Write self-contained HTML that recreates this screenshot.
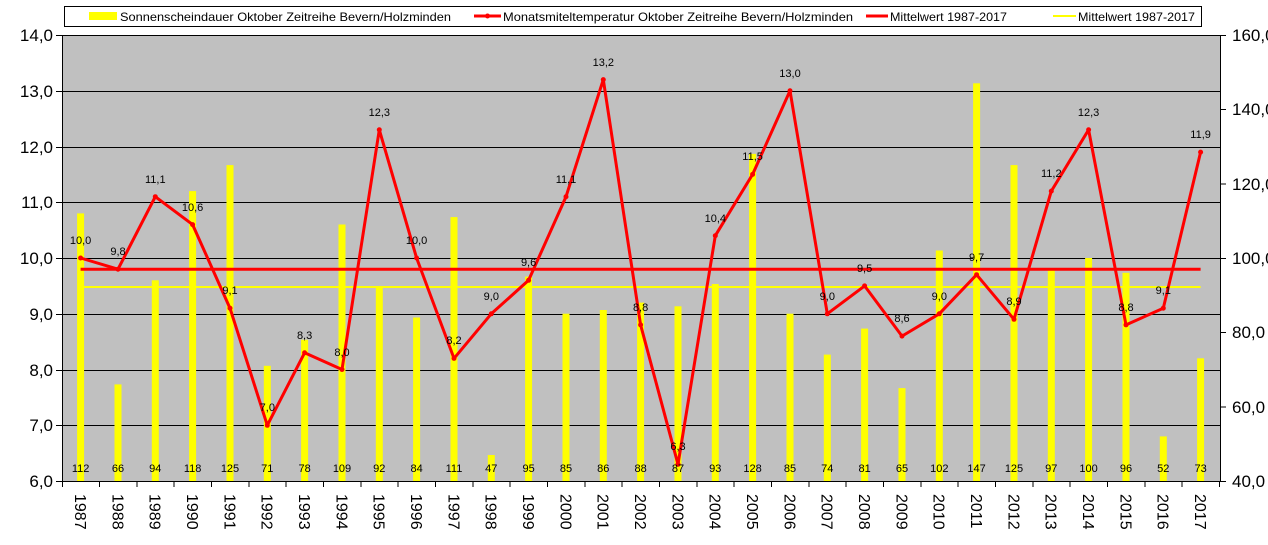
<!DOCTYPE html>
<html><head><meta charset="utf-8"><style>
html,body{margin:0;padding:0;background:#fff;}
svg{display:block;font-family:"Liberation Sans",Arial,sans-serif;}
</style></head><body>
<svg width="1268" height="545" viewBox="0 0 1268 545" xmlns="http://www.w3.org/2000/svg">
<rect x="62" y="35" width="1158" height="446" fill="#c0c0c0"/>
<g stroke="#000" stroke-width="1">
<line x1="62" y1="35.5" x2="1220" y2="35.5"/>
<line x1="62" y1="91.5" x2="1220" y2="91.5"/>
<line x1="62" y1="147.5" x2="1220" y2="147.5"/>
<line x1="62" y1="202.5" x2="1220" y2="202.5"/>
<line x1="62" y1="258.5" x2="1220" y2="258.5"/>
<line x1="62" y1="314.5" x2="1220" y2="314.5"/>
<line x1="62" y1="370.5" x2="1220" y2="370.5"/>
<line x1="62" y1="425.5" x2="1220" y2="425.5"/>
<line x1="62" y1="481.5" x2="1220" y2="481.5"/>
<line x1="62.5" y1="35" x2="62.5" y2="481"/>
<line x1="1220.5" y1="35" x2="1220.5" y2="481"/>
</g>
<g stroke="#000">
<line x1="1220" y1="35.5" x2="1226" y2="35.5"/><line x1="1220" y1="109.5" x2="1226" y2="109.5"/><line x1="1220" y1="184" x2="1226" y2="184"/><line x1="1220" y1="258.5" x2="1226" y2="258.5"/><line x1="1220" y1="332.5" x2="1226" y2="332.5"/><line x1="1220" y1="407" x2="1226" y2="407"/><line x1="1220" y1="481.5" x2="1226" y2="481.5"/>
<line x1="56" y1="35.5" x2="62" y2="35.5"/><line x1="56" y1="91.5" x2="62" y2="91.5"/><line x1="56" y1="147.5" x2="62" y2="147.5"/><line x1="56" y1="202.5" x2="62" y2="202.5"/><line x1="56" y1="258.5" x2="62" y2="258.5"/><line x1="56" y1="314.5" x2="62" y2="314.5"/><line x1="56" y1="370.5" x2="62" y2="370.5"/><line x1="56" y1="425.5" x2="62" y2="425.5"/><line x1="56" y1="481.5" x2="62" y2="481.5"/>
</g>
<g stroke="#000">
<line x1="62.5" y1="481" x2="62.5" y2="487"/><line x1="99.5" y1="481" x2="99.5" y2="487"/><line x1="137" y1="481" x2="137" y2="487"/><line x1="174" y1="481" x2="174" y2="487"/><line x1="211.5" y1="481" x2="211.5" y2="487"/><line x1="249" y1="481" x2="249" y2="487"/><line x1="286" y1="481" x2="286" y2="487"/><line x1="323.5" y1="481" x2="323.5" y2="487"/><line x1="361" y1="481" x2="361" y2="487"/><line x1="398" y1="481" x2="398" y2="487"/><line x1="435.5" y1="481" x2="435.5" y2="487"/><line x1="473" y1="481" x2="473" y2="487"/><line x1="510" y1="481" x2="510" y2="487"/><line x1="547.5" y1="481" x2="547.5" y2="487"/><line x1="585" y1="481" x2="585" y2="487"/><line x1="622" y1="481" x2="622" y2="487"/><line x1="659.5" y1="481" x2="659.5" y2="487"/><line x1="697" y1="481" x2="697" y2="487"/><line x1="734" y1="481" x2="734" y2="487"/><line x1="771.5" y1="481" x2="771.5" y2="487"/><line x1="809" y1="481" x2="809" y2="487"/><line x1="846" y1="481" x2="846" y2="487"/><line x1="883.5" y1="481" x2="883.5" y2="487"/><line x1="921" y1="481" x2="921" y2="487"/><line x1="958" y1="481" x2="958" y2="487"/><line x1="995.5" y1="481" x2="995.5" y2="487"/><line x1="1033" y1="481" x2="1033" y2="487"/><line x1="1070" y1="481" x2="1070" y2="487"/><line x1="1107.5" y1="481" x2="1107.5" y2="487"/><line x1="1145" y1="481" x2="1145" y2="487"/><line x1="1182" y1="481" x2="1182" y2="487"/><line x1="1219.5" y1="481" x2="1219.5" y2="487"/>
</g>
<g fill="#ffff00">
<rect x="77.1" y="213.4" width="7" height="267.6"/>
<rect x="114.5" y="384.4" width="7" height="96.6"/>
<rect x="151.8" y="280.3" width="7" height="200.7"/>
<rect x="189.1" y="191.1" width="7" height="289.9"/>
<rect x="226.5" y="165.1" width="7" height="315.9"/>
<rect x="263.8" y="365.8" width="7" height="115.2"/>
<rect x="301.1" y="339.8" width="7" height="141.2"/>
<rect x="338.5" y="224.5" width="7" height="256.5"/>
<rect x="375.8" y="287.7" width="7" height="193.3"/>
<rect x="413.1" y="317.5" width="7" height="163.5"/>
<rect x="450.5" y="217.1" width="7" height="263.9"/>
<rect x="487.8" y="455" width="7" height="26"/>
<rect x="525.1" y="276.6" width="7" height="204.4"/>
<rect x="562.5" y="313.7" width="7" height="167.3"/>
<rect x="599.8" y="310" width="7" height="171"/>
<rect x="637.1" y="302.6" width="7" height="178.4"/>
<rect x="674.5" y="306.3" width="7" height="174.7"/>
<rect x="711.8" y="284" width="7" height="197"/>
<rect x="749.1" y="153.9" width="7" height="327.1"/>
<rect x="786.5" y="313.7" width="7" height="167.3"/>
<rect x="823.8" y="354.6" width="7" height="126.4"/>
<rect x="861.1" y="328.6" width="7" height="152.4"/>
<rect x="898.5" y="388.1" width="7" height="92.9"/>
<rect x="935.8" y="250.5" width="7" height="230.5"/>
<rect x="973.1" y="83.3" width="7" height="397.7"/>
<rect x="1010.5" y="165.1" width="7" height="315.9"/>
<rect x="1047.8" y="269.1" width="7" height="211.9"/>
<rect x="1085.1" y="258" width="7" height="223"/>
<rect x="1122.5" y="272.8" width="7" height="208.2"/>
<rect x="1159.8" y="436.4" width="7" height="44.6"/>
<rect x="1197.1" y="358.3" width="7" height="122.7"/>
</g>
<line x1="80.6" y1="287" x2="1200.6" y2="287" stroke="#ffff00" stroke-width="2"/>
<line x1="80.6" y1="269.2" x2="1200.6" y2="269.2" stroke="#ff0000" stroke-width="3"/>
<polyline fill="none" stroke="#ff0000" stroke-width="3" stroke-linejoin="round" points="80.6,258 118,269.2 155.3,196.7 192.6,224.6 230,308.2 267.3,425.3 304.6,352.8 342,369.5 379.3,129.8 416.6,258 454,358.4 491.3,313.8 528.6,280.3 566,196.7 603.3,79.6 640.6,324.9 678,464.3 715.3,235.7 752.6,174.4 790,90.8 827.3,313.8 864.6,285.9 902,336.1 939.3,313.8 976.6,274.7 1014,319.3 1051.3,191.1 1088.6,129.8 1126,324.9 1163.3,308.2 1200.6,152.1"/>
<g fill="#ff0000">
<circle cx="80.6" cy="258" r="2.5"/><circle cx="118" cy="269.2" r="2.5"/><circle cx="155.3" cy="196.7" r="2.5"/><circle cx="192.6" cy="224.6" r="2.5"/><circle cx="230" cy="308.2" r="2.5"/><circle cx="267.3" cy="425.3" r="2.5"/><circle cx="304.6" cy="352.8" r="2.5"/><circle cx="342" cy="369.5" r="2.5"/><circle cx="379.3" cy="129.8" r="2.5"/><circle cx="416.6" cy="258" r="2.5"/><circle cx="454" cy="358.4" r="2.5"/><circle cx="491.3" cy="313.8" r="2.5"/><circle cx="528.6" cy="280.3" r="2.5"/><circle cx="566" cy="196.7" r="2.5"/><circle cx="603.3" cy="79.6" r="2.5"/><circle cx="640.6" cy="324.9" r="2.5"/><circle cx="678" cy="464.3" r="2.5"/><circle cx="715.3" cy="235.7" r="2.5"/><circle cx="752.6" cy="174.4" r="2.5"/><circle cx="790" cy="90.8" r="2.5"/><circle cx="827.3" cy="313.8" r="2.5"/><circle cx="864.6" cy="285.9" r="2.5"/><circle cx="902" cy="336.1" r="2.5"/><circle cx="939.3" cy="313.8" r="2.5"/><circle cx="976.6" cy="274.7" r="2.5"/><circle cx="1014" cy="319.3" r="2.5"/><circle cx="1051.3" cy="191.1" r="2.5"/><circle cx="1088.6" cy="129.8" r="2.5"/><circle cx="1126" cy="324.9" r="2.5"/><circle cx="1163.3" cy="308.2" r="2.5"/><circle cx="1200.6" cy="152.1" r="2.5"/>
</g>
<g font-size="11" fill="#000" text-anchor="middle">
<text x="80.6" y="244">10,0</text><text x="118" y="255">9,8</text><text x="155.3" y="183">11,1</text><text x="192.6" y="211">10,6</text><text x="230" y="294">9,1</text><text x="267.3" y="411">7,0</text><text x="304.6" y="339">8,3</text><text x="342" y="356">8,0</text><text x="379.3" y="116">12,3</text><text x="416.6" y="244">10,0</text><text x="454" y="344">8,2</text><text x="491.3" y="300">9,0</text><text x="528.6" y="266">9,6</text><text x="566" y="183">11,1</text><text x="603.3" y="66">13,2</text><text x="640.6" y="311">8,8</text><text x="678" y="450">6,3</text><text x="715.3" y="222">10,4</text><text x="752.6" y="160">11,5</text><text x="790" y="77">13,0</text><text x="827.3" y="300">9,0</text><text x="864.6" y="272">9,5</text><text x="902" y="322">8,6</text><text x="939.3" y="300">9,0</text><text x="976.6" y="261">9,7</text><text x="1014" y="305">8,9</text><text x="1051.3" y="177">11,2</text><text x="1088.6" y="116">12,3</text><text x="1126" y="311">8,8</text><text x="1163.3" y="294">9,1</text><text x="1200.6" y="138">11,9</text>
</g>
<g font-size="11" fill="#000" text-anchor="middle">
<text x="80.6" y="472">112</text><text x="118" y="472">66</text><text x="155.3" y="472">94</text><text x="192.6" y="472">118</text><text x="230" y="472">125</text><text x="267.3" y="472">71</text><text x="304.6" y="472">78</text><text x="342" y="472">109</text><text x="379.3" y="472">92</text><text x="416.6" y="472">84</text><text x="454" y="472">111</text><text x="491.3" y="472">47</text><text x="528.6" y="472">95</text><text x="566" y="472">85</text><text x="603.3" y="472">86</text><text x="640.6" y="472">88</text><text x="678" y="472">87</text><text x="715.3" y="472">93</text><text x="752.6" y="472">128</text><text x="790" y="472">85</text><text x="827.3" y="472">74</text><text x="864.6" y="472">81</text><text x="902" y="472">65</text><text x="939.3" y="472">102</text><text x="976.6" y="472">147</text><text x="1014" y="472">125</text><text x="1051.3" y="472">97</text><text x="1088.6" y="472">100</text><text x="1126" y="472">96</text><text x="1163.3" y="472">52</text><text x="1200.6" y="472">73</text>
</g>
<g font-size="17" fill="#000" text-anchor="end">
<text x="53" y="41">14,0</text><text x="53" y="97">13,0</text><text x="53" y="153">12,0</text><text x="53" y="208">11,0</text><text x="53" y="264">10,0</text><text x="53" y="320">9,0</text><text x="53" y="376">8,0</text><text x="53" y="431">7,0</text><text x="53" y="487">6,0</text>
</g>
<g font-size="17" fill="#000">
<text x="1232" y="41">160,0</text><text x="1232" y="115">140,0</text><text x="1232" y="190">120,0</text><text x="1232" y="264">100,0</text><text x="1232" y="338">80,0</text><text x="1232" y="413">60,0</text><text x="1232" y="487">40,0</text>
</g>
<g font-size="16" fill="#000">
<text transform="translate(75,494) rotate(90)">1987</text><text transform="translate(112.4,494) rotate(90)">1988</text><text transform="translate(149.7,494) rotate(90)">1989</text><text transform="translate(187,494) rotate(90)">1990</text><text transform="translate(224.4,494) rotate(90)">1991</text><text transform="translate(261.7,494) rotate(90)">1992</text><text transform="translate(299,494) rotate(90)">1993</text><text transform="translate(336.4,494) rotate(90)">1994</text><text transform="translate(373.7,494) rotate(90)">1995</text><text transform="translate(411,494) rotate(90)">1996</text><text transform="translate(448.4,494) rotate(90)">1997</text><text transform="translate(485.7,494) rotate(90)">1998</text><text transform="translate(523,494) rotate(90)">1999</text><text transform="translate(560.4,494) rotate(90)">2000</text><text transform="translate(597.7,494) rotate(90)">2001</text><text transform="translate(635,494) rotate(90)">2002</text><text transform="translate(672.4,494) rotate(90)">2003</text><text transform="translate(709.7,494) rotate(90)">2004</text><text transform="translate(747,494) rotate(90)">2005</text><text transform="translate(784.4,494) rotate(90)">2006</text><text transform="translate(821.7,494) rotate(90)">2007</text><text transform="translate(859,494) rotate(90)">2008</text><text transform="translate(896.4,494) rotate(90)">2009</text><text transform="translate(933.7,494) rotate(90)">2010</text><text transform="translate(971,494) rotate(90)">2011</text><text transform="translate(1008.4,494) rotate(90)">2012</text><text transform="translate(1045.7,494) rotate(90)">2013</text><text transform="translate(1083,494) rotate(90)">2014</text><text transform="translate(1120.4,494) rotate(90)">2015</text><text transform="translate(1157.7,494) rotate(90)">2016</text><text transform="translate(1195,494) rotate(90)">2017</text>
</g>
<rect x="64.5" y="6.5" width="1137" height="20" fill="#fff" stroke="#000"/>
<rect x="89" y="12" width="28" height="8" fill="#ffff00"/>
<text x="120" y="21" font-size="12" textLength="331" lengthAdjust="spacingAndGlyphs">Sonnenscheindauer Oktober Zeitreihe Bevern/Holzminden</text>
<line x1="474" y1="16" x2="501" y2="16" stroke="#ff0000" stroke-width="3"/><circle cx="487.5" cy="16" r="2.5" fill="#ff0000"/>
<text x="503" y="21" font-size="12" textLength="350" lengthAdjust="spacingAndGlyphs">Monatsmiteltemperatur Oktober Zeitreihe Bevern/Holzminden</text>
<line x1="866" y1="16" x2="888" y2="16" stroke="#ff0000" stroke-width="3"/>
<text x="890" y="21" font-size="12" textLength="117" lengthAdjust="spacingAndGlyphs">Mittelwert 1987-2017</text>
<line x1="1053" y1="16" x2="1076" y2="16" stroke="#ffff00" stroke-width="2"/>
<text x="1078" y="21" font-size="12" textLength="117" lengthAdjust="spacingAndGlyphs">Mittelwert 1987-2017</text>
</svg>
</body></html>
